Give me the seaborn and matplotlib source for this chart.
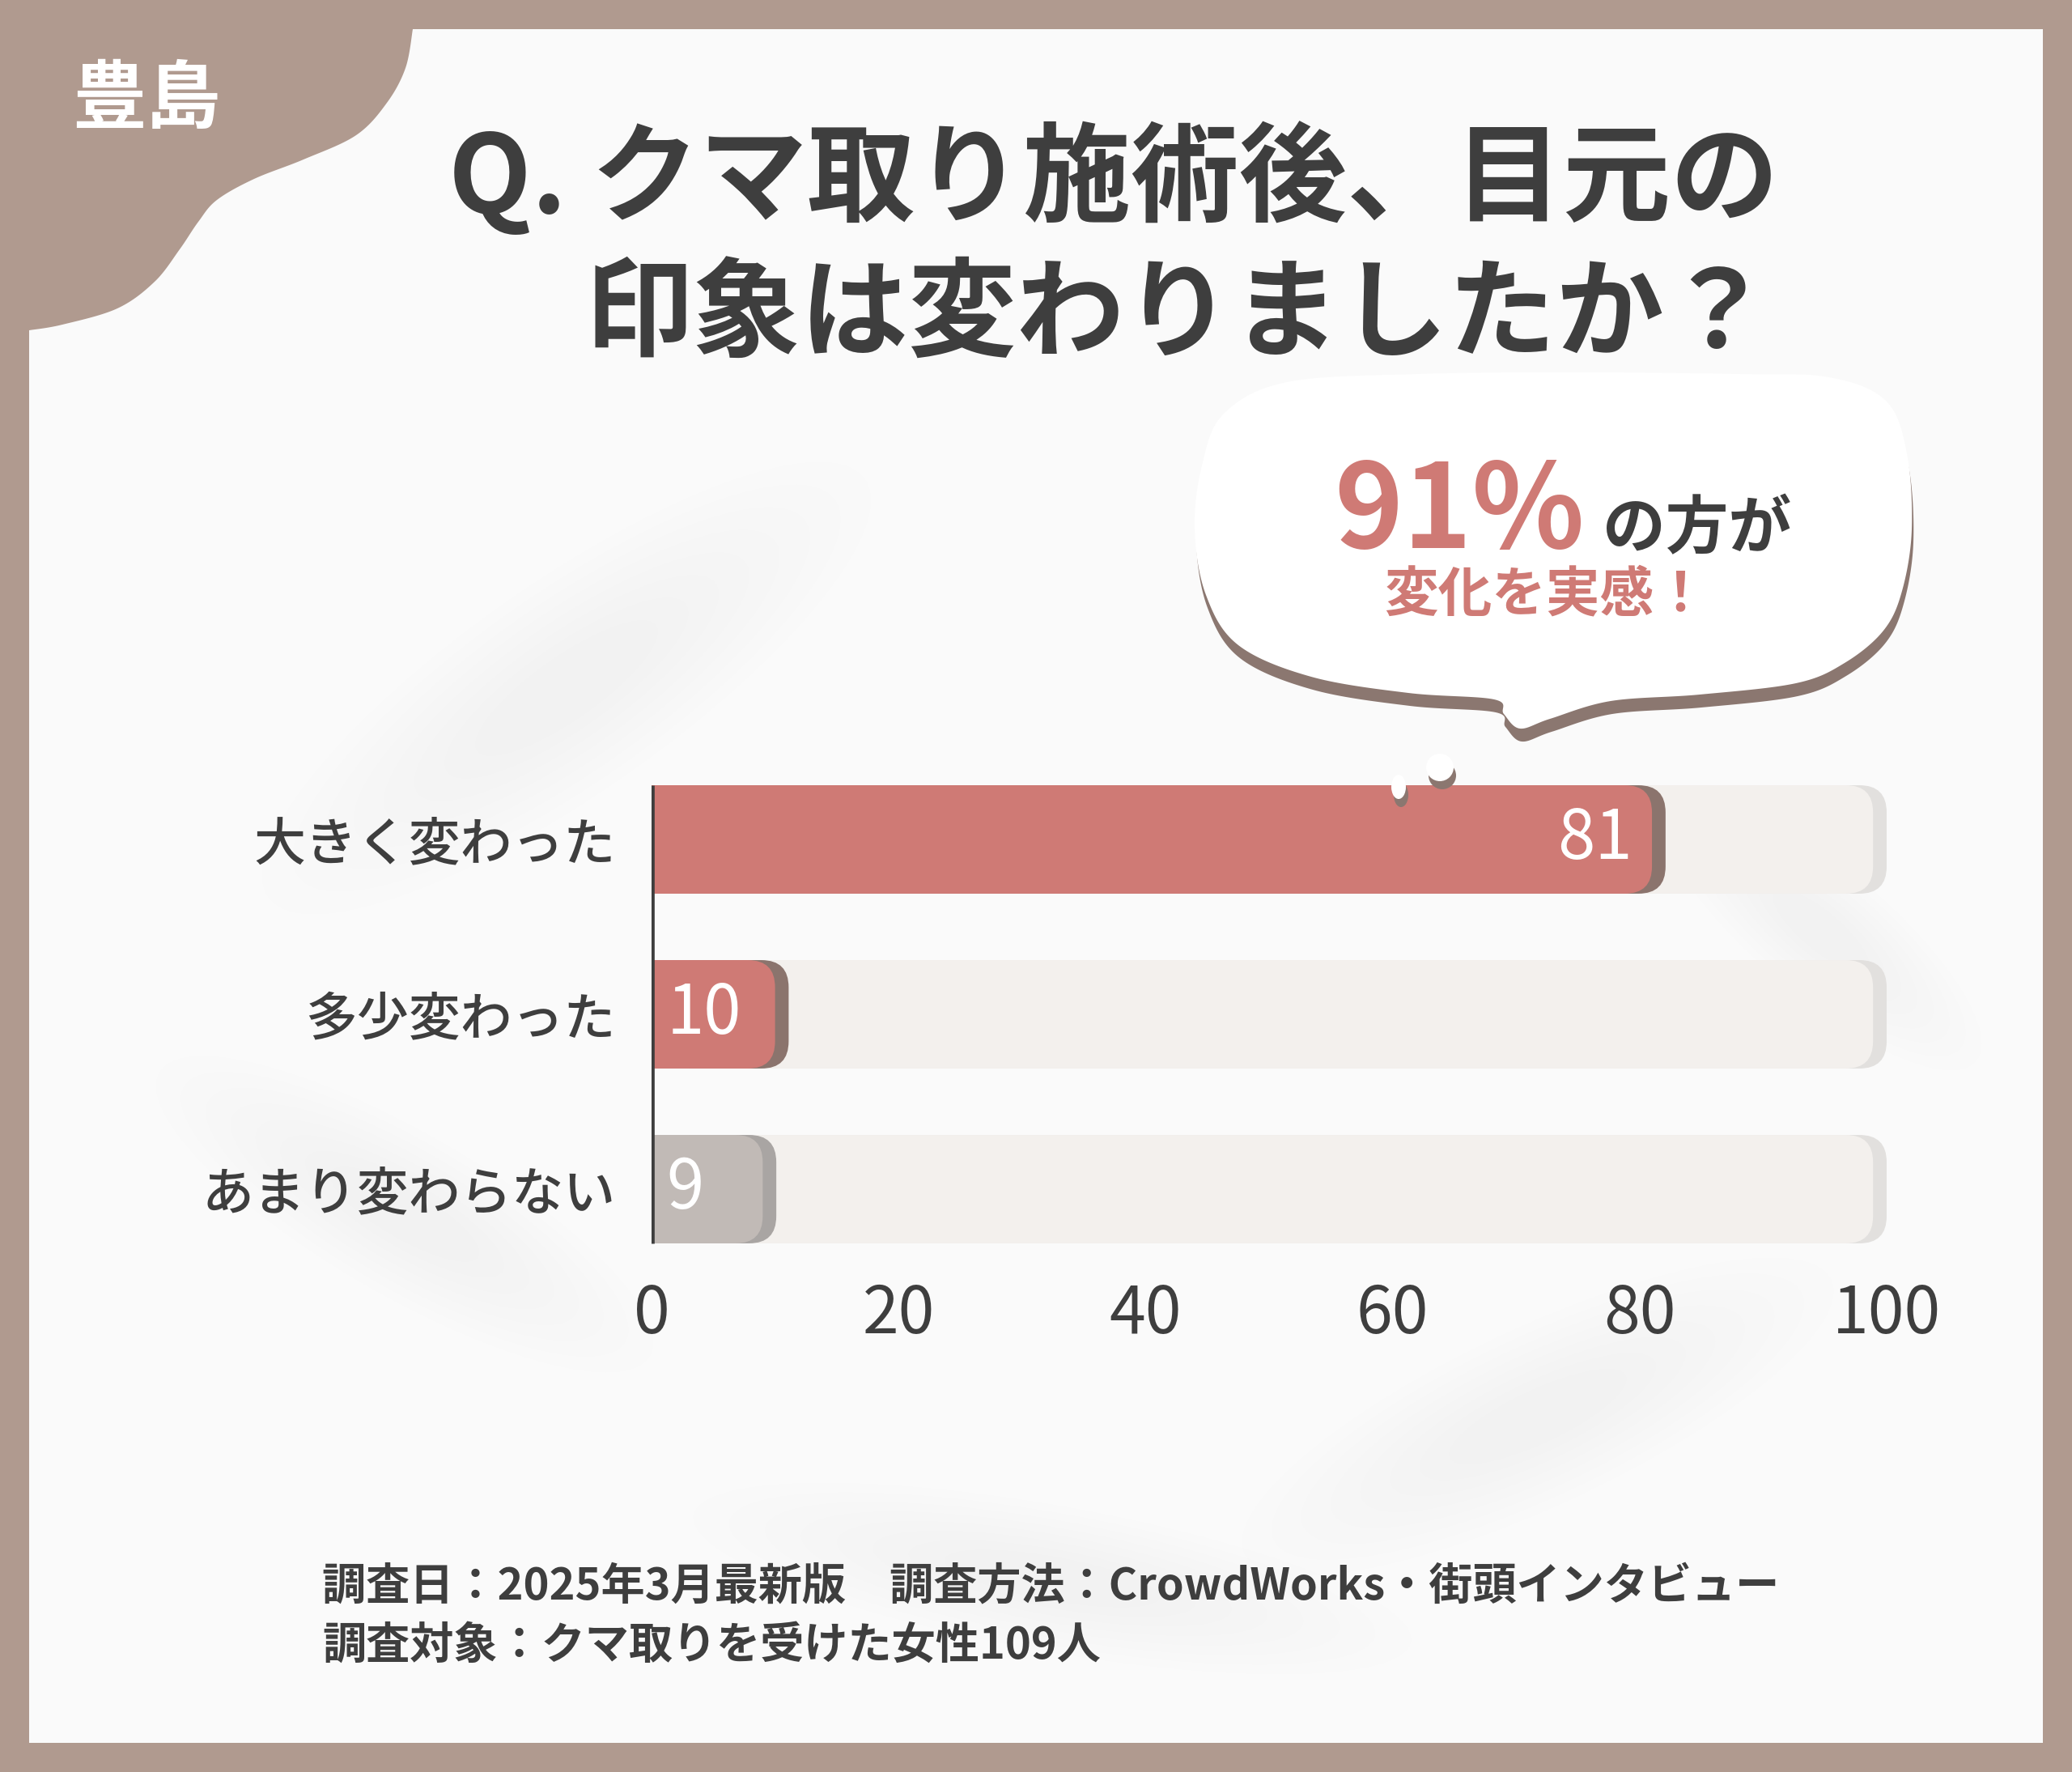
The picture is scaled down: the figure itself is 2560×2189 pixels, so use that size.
import numpy as np
import pandas as pd
import matplotlib
matplotlib.use("Agg")
import matplotlib.pyplot as plt
import seaborn as sns
from matplotlib.patches import FancyBboxPatch, Rectangle, Polygon, Ellipse

# ---------------- data ----------------
categories = ["大きく変わった", "多少変わった", "あまり変わらない"]
values = [81, 10, 9]
full_scale = [100, 100, 100]
bar_colors = ["#cf7a75", "#cf7a75", "#c1bab6"]
shadow_colors = ["#8b746d", "#8b746d", "#a9a5a3"]
x_ticks = [0, 20, 40, 60, 80, 100]
title_lines = ["Q. クマ取り施術後、目元の", "印象は変わりましたか？"]
area_label = "豊島"
callout_pct = "91%"
callout_suffix = "の方が"
callout_line2 = "変化を実感！"
footer_lines = ["調査日：2025年3月最新版　調査方法：CrowdWorks・街頭インタビュー",
                "調査対象：クマ取りを受けた女性109人"]

# ---------------- styles ----------------
W, H, DPI = 2560, 2189, 200
FRAME = "#b09a8f"
PANEL = "#fafafa"
DARK = "#3e3e3e"
ACCENT = "#cf7a75"
BAR_H = 0.62

sns.set_style("white")
plt.rcParams["font.family"] = ["Noto Sans CJK JP", "DejaVu Sans"]

fig = plt.figure(figsize=(W / DPI, H / DPI), dpi=DPI, facecolor=FRAME)

# background layer in pixel coordinates
bg = fig.add_axes([0, 0, 1, 1], zorder=0)
bg.set_xlim(0, W)
bg.set_ylim(H, 0)
bg.axis("off")
bg.add_patch(Rectangle((36, 36), W - 72, H - 72, fc=PANEL, ec="none", zorder=0))

# very faint soft smudges
for (cx, cy, w, h, ang) in [(700, 850, 900, 260, -35), (500, 1500, 700, 200, 30),
                            (1900, 1750, 800, 220, -25), (1300, 1950, 900, 180, 10),
                            (2250, 1150, 500, 160, 40)]:
    for k in range(8):
        bg.add_patch(Ellipse((cx, cy), w * (1 - k * 0.1), h * (1 - k * 0.1), angle=ang,
                             fc="#a0a0a0", ec="none", alpha=0.007, zorder=0.5))


def catmull(pts, n=24, closed=True):
    P = np.array(pts, float)
    N = len(P)
    out = []
    rng = range(N) if closed else range(N - 1)
    for i in rng:
        p0 = P[i - 1] if (closed or i > 0) else P[0]
        p1 = P[i]
        p2 = P[(i + 1) % N]
        p3 = P[(i + 2) % N] if (closed or i + 2 < N) else P[-1]
        t = np.linspace(0, 1, n, endpoint=False)[:, None]
        out.append(0.5 * (2 * p1 + (-p0 + p2) * t + (2 * p0 - 5 * p1 + 4 * p2 - p3) * t ** 2
                          + (-p0 + 3 * p1 - 3 * p2 + p3) * t ** 3))
    if not closed:
        out.append(P[-1][None, :])
    return np.vstack(out)


# top-left blob
blob_curve = [(510, 36), (501, 84), (478, 127), (440, 167), (375, 197), (314, 221), (268, 247),
              (245, 274), (222, 308), (191, 348), (145, 381), (77, 401), (36, 408)]
blob = np.vstack([[(36, 36)], catmull(blob_curve, closed=False)])
bg.add_patch(Polygon(blob, closed=True, fc=FRAME, ec="none", zorder=1))
bg.text(181, 124, area_label, color="white", fontsize=33, fontweight="bold",
        ha="center", va="center", zorder=2)

# speech bubble
bubble_pts = [(1476, 654), (1485, 575), (1512, 511), (1590, 472), (1750, 462), (1950, 460),
              (2150, 462), (2260, 466), (2330, 495), (2356, 560), (2362, 654), (2350, 730),
              (2327, 779), (2279, 819), (2219, 844), (2100, 858), (1990, 866), (1915, 888),
              (1878, 900), (1858, 882), (1846, 864), (1740, 856), (1620, 836), (1530, 797),
              (1490, 735)]
bub = catmull(bubble_pts, n=20)
bg.add_patch(Polygon(bub + np.array([2, 16]), closed=True, fc="#8b7770", ec="none", zorder=3))
bg.add_patch(Polygon(bub, closed=True, fc="white", ec="none", zorder=4))

# ---------------- chart ----------------
df = pd.DataFrame({"category": categories, "value": values, "full": full_scale})
ax = fig.add_axes([805 / W, 1 - 1577 / H, 1526 / W, 648 / H], zorder=2)
ax.patch.set_alpha(0)

sns.barplot(data=df, x="full", y="category", color="#f3f0ed", width=BAR_H, ax=ax)
sns.barplot(data=df, x="value", y="category", hue="category", palette=bar_colors,
            width=BAR_H, legend=False, ax=ax)
ax.set_xlim(0, 100)
ax.set_ylim(2.5, -0.5)

pos = ax.get_position()
px_x = pos.width * W / 100.0
px_y = pos.height * H / 3.0
asp = px_x / px_y
R = 2.2      # rounding radius (x units)
SH = 1.1     # shadow offset (x units)

rects = list(ax.patches)
for p in rects:
    p.remove()
n = len(categories)
for j, p in enumerate(rects):
    x0, y0, w, h = p.get_x(), p.get_y(), p.get_width(), p.get_height()
    if j < n:
        fc, sc, z = "#f3f0ed", "#e2e0de", 1
        w = w - SH
    else:
        i = j - n
        fc, sc, z = bar_colors[i], shadow_colors[i], 3
    for (ww, col, zz) in [(w + SH, sc, z), (w, fc, z + 0.5)]:
        ax.add_patch(FancyBboxPatch((x0, y0), ww, h, boxstyle=f"round,pad=0,rounding_size={R}",
                                    mutation_aspect=asp, fc=col, ec="none", zorder=zz, clip_on=False))
    ax.add_patch(Rectangle((x0, y0), min(w / 2, 3), h, fc=fc, ec="none", zorder=z + 0.6, clip_on=False))

for i, v in enumerate(values):
    if v >= 20:
        ax.text(v - 1.6, i, str(v), ha="right", va="center", color="white", fontsize=30, zorder=6)
    else:
        ax.text(1.2, i, str(v), ha="left", va="center", color="white", fontsize=30, zorder=6)

ax.vlines(0, -BAR_H / 2, len(categories) - 1 + BAR_H / 2, color=DARK, lw=2.4, zorder=7)

sns.despine(ax=ax, left=True, bottom=True)
ax.set_xticks(x_ticks)
ax.set_xticklabels([str(t) for t in x_ticks])
ax.set_xlabel("")
ax.set_ylabel("")
ax.tick_params(axis="x", length=0, pad=2, labelsize=29, labelcolor=DARK)
ax.tick_params(axis="y", length=0, pad=16, labelsize=23, labelcolor=DARK)
for lab in ax.get_yticklabels():
    lab.set_fontweight("medium")
ax.grid(False)

# thought dots over the bar top
top = fig.add_axes([0, 0, 1, 1], zorder=5)
top.set_xlim(0, W)
top.set_ylim(H, 0)
top.axis("off")
for (cx, cy, rw, rh) in [(1728, 972, 18, 30), (1779, 948, 34, 34)]:
    top.add_patch(Ellipse((cx + 3, cy + 10), rw, rh, fc="#8b7770", ec="none"))
    top.add_patch(Ellipse((cx, cy), rw, rh, fc="white", ec="none"))

# ---------------- texts ----------------
fig.text(2198 / W, 1 - 222 / H, title_lines[0], ha="right", va="center", fontsize=48,
         fontweight="bold", color=DARK)
fig.text(2190 / W, 1 - 392 / H, title_lines[1], ha="right", va="center", fontsize=48,
         fontweight="bold", color=DARK)

fig.text(1958 / W, 1 - 677 / H, callout_pct, ha="right", va="baseline", fontsize=52,
         fontweight="bold", color=ACCENT, zorder=10)
fig.text(1980 / W, 1 - 677 / H, callout_suffix, ha="left", va="baseline", fontsize=28,
         fontweight="bold", color=DARK, zorder=10)
fig.text(1910 / W, 1 - 735 / H, callout_line2, ha="center", va="center", fontsize=24,
         fontweight="bold", color=ACCENT, zorder=10)

fig.text(398 / W, 1 - 1960 / H, footer_lines[0], ha="left", va="center", fontsize=19.5,
         fontweight="bold", color=DARK)
fig.text(398 / W, 1 - 2033 / H, footer_lines[1], ha="left", va="center", fontsize=19.5,
         fontweight="bold", color=DARK)

fig.savefig("out.png", dpi=DPI, facecolor=FRAME)
